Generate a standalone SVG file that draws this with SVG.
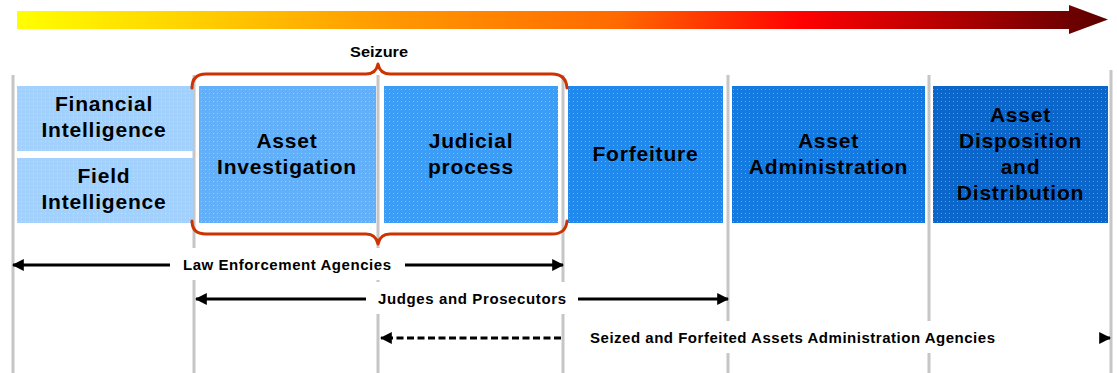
<svg xmlns="http://www.w3.org/2000/svg" width="1117" height="373" viewBox="0 0 1117 373">
<defs>
<linearGradient id="grad" x1="17" y1="0" x2="1108" y2="0" gradientUnits="userSpaceOnUse">
<stop offset="0" stop-color="#ffff00"/>
<stop offset="0.15" stop-color="#ffd400"/>
<stop offset="0.34" stop-color="#ff9900"/>
<stop offset="0.55" stop-color="#ff6a00"/>
<stop offset="0.72" stop-color="#ff0000"/>
<stop offset="0.86" stop-color="#b00000"/>
<stop offset="1" stop-color="#5a0000"/>
</linearGradient>
<pattern id="dots" width="4" height="4" patternUnits="userSpaceOnUse">
<rect x="1" y="1" width="1" height="1" fill="#ffffff" fill-opacity="0.35"/>
</pattern>
<marker id="ah" viewBox="0 0 10 10" refX="9" refY="5" markerWidth="4" markerHeight="4" orient="auto-start-reverse" markerUnits="strokeWidth">
<path d="M0,0 L10,5 L0,10 Z" fill="#000"/>
</marker>
<style>
.vl{stroke:#c6c6c6;stroke-width:3;fill:none}
.box{stroke:none}
.tx{font-family:"Liberation Sans",Arial,sans-serif;font-weight:bold;font-size:21px;letter-spacing:0.8px;fill:#000;text-anchor:middle}
.lb{font-family:"Liberation Sans",Arial,sans-serif;font-weight:bold;font-size:15px;fill:#000}
.ar{stroke:#000;stroke-width:3;fill:none}
.brace{stroke:#cc3300;stroke-width:3;fill:none;stroke-linejoin:round;stroke-linecap:round}
.mask{fill:#fff}
</style>
</defs>
<rect width="1117" height="373" fill="#fff"/>

<g id="timeline">
<path d="M17,11 L1069,11 L1069,5 L1108,19.5 L1069,34 L1069,29 L17,29 Z" fill="url(#grad)"/>
</g>

<g id="dividers">
<line class="vl" x1="13" y1="75" x2="13" y2="373"/>
<line class="vl" x1="194" y1="75" x2="194" y2="373"/>
<line class="vl" x1="378" y1="75" x2="378" y2="373"/>
<line class="vl" x1="563" y1="75" x2="563" y2="373"/>
<line class="vl" x1="728" y1="75" x2="728" y2="373"/>
<line class="vl" x1="929" y1="75" x2="929" y2="373"/>
<line class="vl" x1="1111" y1="70" x2="1111" y2="373"/>
</g>

<g id="node-financial">
<rect class="box" x="17" y="86" width="176" height="65" fill="#a3d1fd"/>
<rect x="17" y="86" width="176" height="65" fill="url(#dots)"/>
<text class="tx" x="104" y="111">Financial</text>
<text class="tx" x="104" y="137">Intelligence</text>
</g>
<g id="node-field">
<rect class="box" x="17" y="158" width="176" height="65" fill="#a3d1fd"/>
<rect x="17" y="158" width="176" height="65" fill="url(#dots)"/>
<text class="tx" x="104" y="183">Field</text>
<text class="tx" x="104" y="209">Intelligence</text>
</g>
<g id="node-investigation">
<rect class="box" x="199" y="86" width="177" height="137" fill="#62b0fa"/>
<rect x="199" y="86" width="177" height="137" fill="url(#dots)"/>
<text class="tx" x="287" y="148">Asset</text>
<text class="tx" x="287" y="174">Investigation</text>
</g>
<g id="node-judicial">
<rect class="box" x="384" y="86" width="174" height="137" fill="#3c9df6"/>
<rect x="384" y="86" width="174" height="137" fill="url(#dots)"/>
<text class="tx" x="471" y="148">Judicial</text>
<text class="tx" x="471" y="174">process</text>
</g>
<g id="node-forfeiture">
<rect class="box" x="568" y="86" width="155" height="137" fill="#1f89ee"/>
<rect x="568" y="86" width="155" height="137" fill="url(#dots)"/>
<text class="tx" x="645.5" y="161">Forfeiture</text>
</g>
<g id="node-administration">
<rect class="box" x="732" y="86" width="193" height="137" fill="#137ae2"/>
<rect x="732" y="86" width="193" height="137" fill="url(#dots)"/>
<text class="tx" x="828.5" y="148">Asset</text>
<text class="tx" x="828.5" y="174">Administration</text>
</g>
<g id="node-disposition">
<rect class="box" x="933" y="86" width="175" height="137" fill="#0b66cc"/>
<rect x="933" y="86" width="175" height="137" fill="url(#dots)"/>
<text class="tx" x="1020.5" y="122">Asset</text>
<text class="tx" x="1020.5" y="148">Disposition</text>
<text class="tx" x="1020.5" y="174">and</text>
<text class="tx" x="1020.5" y="200">Distribution</text>
</g>

<g id="seizure">
<path class="brace" d="M192,88 Q192,74 206,74 L366,74 Q376,74 378,64 Q380,74 390,74 L552,74 Q566,74 567,88"/>
<path class="brace" d="M192,221 Q192,234 206,234 L366,234 Q376,234 378,244 Q380,234 390,234 L552,234 Q566,234 567,221"/>
<text class="lb" x="350" y="57" font-size="14" textLength="58" lengthAdjust="spacingAndGlyphs">Seizure</text>
</g>

<g id="connectors">
<rect class="mask" x="20" y="248" width="535" height="32"/>
<rect class="mask" x="200" y="282" width="520" height="32"/>
<rect class="mask" x="570" y="321" width="530" height="32"/>
<line class="ar" x1="170" y1="265" x2="13" y2="265" marker-end="url(#ah)"/>
<line class="ar" x1="405" y1="265" x2="563" y2="265" marker-end="url(#ah)"/>
<line class="ar" x1="366" y1="299" x2="196" y2="299" marker-end="url(#ah)"/>
<line class="ar" x1="578" y1="299" x2="728" y2="299" marker-end="url(#ah)"/>
<line class="ar" x1="561" y1="338" x2="381" y2="338" stroke-dasharray="7 3.5" marker-end="url(#ah)"/>
<line class="ar" x1="1100" y1="338" x2="1110" y2="338" marker-end="url(#ah)"/>
</g>

<g id="labels">
<text class="lb" x="183" y="270" textLength="208" lengthAdjust="spacing">Law Enforcement Agencies</text>
<text class="lb" x="378" y="304" textLength="188" lengthAdjust="spacing">Judges and Prosecutors</text>
<text class="lb" x="590" y="343" textLength="405" lengthAdjust="spacing">Seized and Forfeited Assets Administration Agencies</text>
</g>
</svg>
